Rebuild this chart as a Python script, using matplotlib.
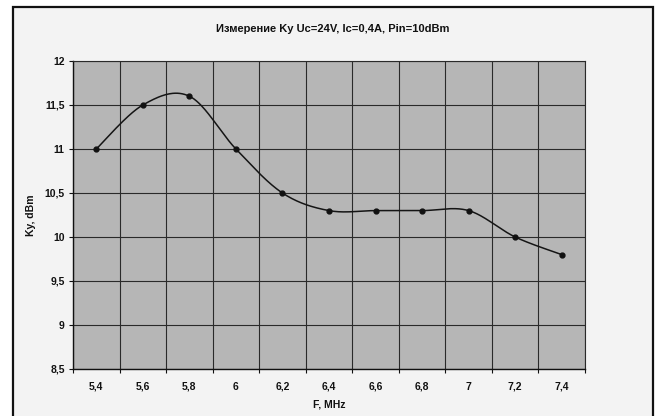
import numpy as np
import matplotlib
matplotlib.use("Agg")
import matplotlib.pyplot as plt
from matplotlib.patches import Rectangle

plt.rcParams['font.family'] = ['Liberation Sans', 'DejaVu Sans']

##### DATA #####
freq_labels = ["5,4", "5,6", "5,8", "6", "6,2", "6,4", "6,6", "6,8", "7", "7,2", "7,4"]
ky_values = [11.0, 11.5, 11.6, 11.0, 10.5, 10.3, 10.3, 10.3, 10.3, 10.0, 9.8]
y_ticks = [8.5, 9, 9.5, 10, 10.5, 11, 11.5, 12]
y_tick_labels = ["8,5", "9", "9,5", "10", "10,5", "11", "11,5", "12"]

title = "Измерение Ky Uc=24V, Ic=0,4A, Pin=10dBm"
xlabel = "F, MHz"
ylabel = "Ky, dBm"


def excel_smooth(xs, ys, n=40):
    # bezier segments with catmull-rom style control points (like excel "smoothed line")
    xs = np.asarray(xs, float)
    ys = np.asarray(ys, float)
    px = np.concatenate([[xs[0]], xs, [xs[-1]]])
    py = np.concatenate([[ys[0]], ys, [ys[-1]]])
    t = np.linspace(0, 1, n)
    out_x, out_y = [], []
    for i in range(1, len(px) - 2):
        p0 = np.array([px[i], py[i]])
        p3 = np.array([px[i + 1], py[i + 1]])
        c1 = p0 + (p3 - np.array([px[i - 1], py[i - 1]])) / 6.0
        c2 = p3 - (np.array([px[i + 2], py[i + 2]]) - p0) / 6.0
        b = ((1 - t) ** 3)[:, None] * p0 + (3 * (1 - t) ** 2 * t)[:, None] * c1 \
            + (3 * (1 - t) * t ** 2)[:, None] * c2 + (t ** 3)[:, None] * p3
        out_x.append(b[:, 0])
        out_y.append(b[:, 1])
    return np.concatenate(out_x), np.concatenate(out_y)


W, H = 657, 416
fig = plt.figure(figsize=(W / 100, H / 100), dpi=100)
fig.patch.set_facecolor("white")

# chart area (light, scanned look) + frame, on a background axes
bg = fig.add_axes([0, 0, 1, 1], zorder=-1)
bg.set_xlim(0, W)
bg.set_ylim(H, 0)
bg.axis("off")
bg.add_patch(Rectangle((13, 7), 640, H, facecolor="#f3f3f3",
                       edgecolor="#111111", linewidth=1.6))

ax = fig.add_axes([73 / W, (H - 369) / H, 512 / W, 308 / H])
ax.set_facecolor("#b6b6b6")

x = np.arange(len(ky_values))
sx, sy = excel_smooth(x, ky_values)
ax.plot(sx, sy, color="#151515", linewidth=1.1, zorder=3)
ax.plot(x, ky_values, "o", color="#111111", markersize=3.5, zorder=4)

ax.set_xlim(-0.5, len(ky_values) - 0.5)
ax.set_ylim(8.5, 12)

ax.set_xticks(x)
ax.set_xticklabels(freq_labels)
ax.set_xticks(np.arange(-0.5, len(ky_values)), minor=True)
ax.tick_params(axis="x", which="major", length=0, pad=9)
ax.tick_params(axis="x", which="minor", length=3, width=0.8, color="#111111")

ax.set_yticks(y_ticks)
ax.set_yticklabels(y_tick_labels)
ax.tick_params(axis="y", length=3, width=0.8, color="#111111", pad=3)

for lab in ax.get_xticklabels() + ax.get_yticklabels():
    lab.set_fontsize(7.5)
    lab.set_fontweight("bold")
    lab.set_color("#111111")

ax.grid(True, axis="y", which="major", color="#2a2a2a", linewidth=0.8)
ax.grid(True, axis="x", which="minor", color="#2a2a2a", linewidth=0.8)
ax.set_axisbelow(True)

for side in ["left", "bottom"]:
    ax.spines[side].set_color("#111111")
    ax.spines[side].set_linewidth(1.0)
for side in ["top", "right"]:
    ax.spines[side].set_color("#2a2a2a")
    ax.spines[side].set_linewidth(0.8)

ax.set_xlabel(xlabel, fontsize=7.5, fontweight="bold", color="#111111", labelpad=6)
ax.set_ylabel(ylabel, fontsize=7.5, fontweight="bold", color="#111111", labelpad=6)

fig.text(333 / W, 1 - 29 / H, title, ha="center", va="center",
         fontsize=8, fontweight="bold", color="#111111")

fig.savefig("out.png", dpi=100, facecolor=fig.get_facecolor())
